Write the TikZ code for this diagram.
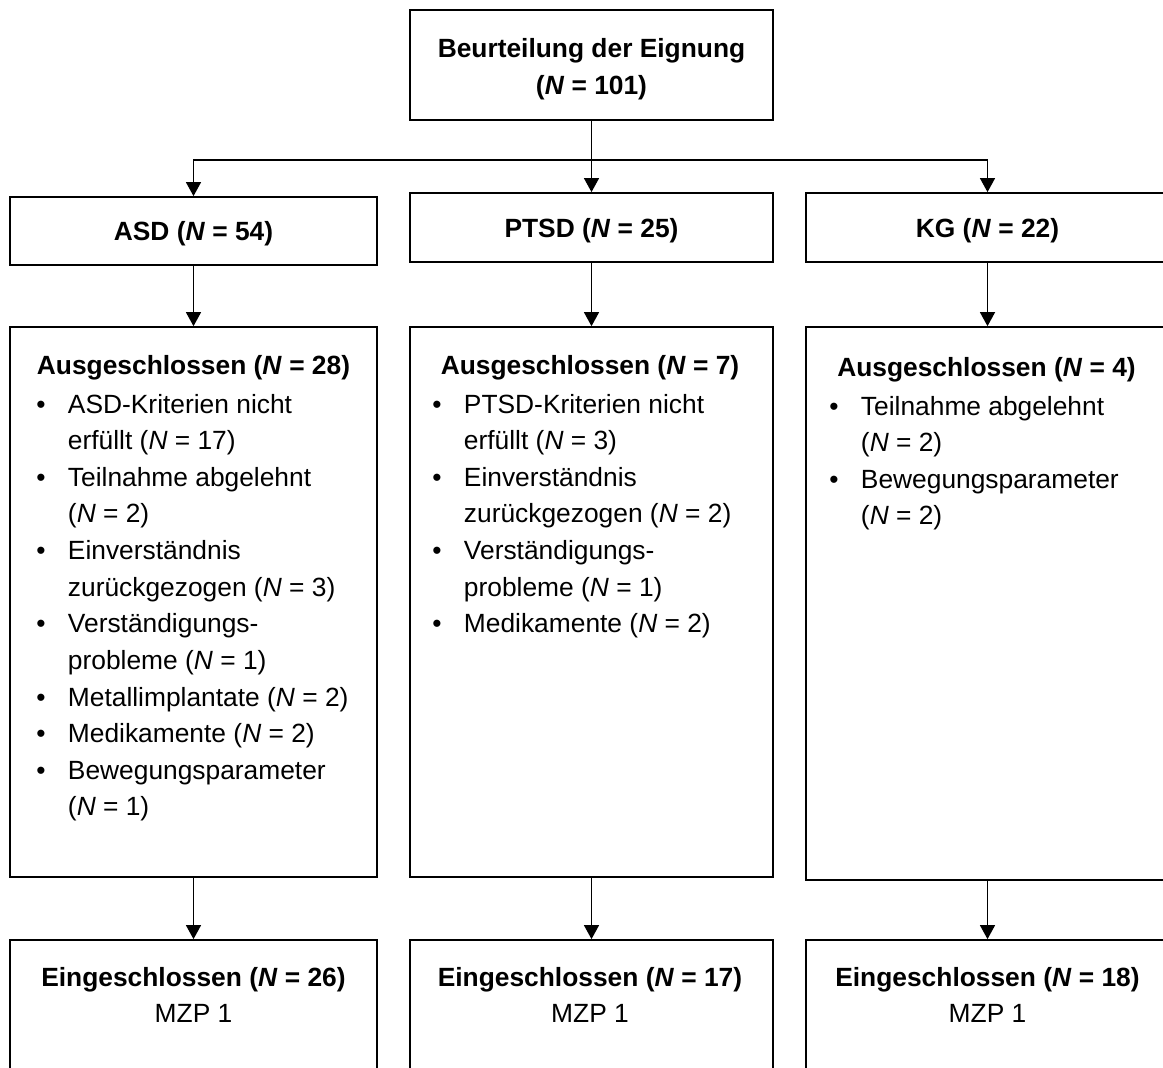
\documentclass[tikz,border=0pt]{standalone}
\usepackage{fontspec}
\setmainfont{Liberation Sans}
\usetikzlibrary{arrows.meta}
\newcommand{\bl}{\makebox[18pt][l]{\textbullet}}
\newcommand{\bpad}{\hspace*{18pt}}

\begin{document}
\begin{tikzpicture}[x=0.02cm,y=-0.02cm,
    box/.style={draw,line width=1pt,inner sep=0pt,minimum width=7.26cm,font=\fontsize{15}{20.85}\selectfont,text depth=0pt},
    txt/.style={inner sep=0pt,font=\fontsize{15}{20.85}\selectfont},
    arr/.style={-{Triangle[length=8pt,width=8.5pt]},line width=1pt}]
    \useasboundingbox (0,0) rectangle (1163,1068);
    \clip (0,0) rectangle (1163,1068);

    % boxes
    \node[box,minimum height=2.2cm] (eig) at (591.5,65) {};
    \node[box,minimum width=7.34cm,minimum height=1.36cm] (asd) at (193.5,231) {\textbf{ASD (\textit{N} = 54)}};
    \node[box,minimum height=1.38cm] (ptsd) at (591.5,227.5) {\textbf{PTSD (\textit{N} = 25)}};
    \node[box,minimum height=1.38cm] (kg) at (987.5,227.5) {\textbf{KG (\textit{N} = 22)}};

    \node[box,minimum width=7.34cm,minimum height=11cm] (exasd) at (193.5,602) {};
    \node[box,minimum height=11cm] (exptsd) at (591.5,602) {};
    \node[box,minimum height=11.06cm] (exkg) at (987.5,603.5) {};

    \node[box,minimum width=7.34cm,minimum height=3.2cm] (inasd) at (193.5,1020) {};
    \node[box,minimum height=3.2cm] (inptsd) at (591.5,1020) {};
    \node[box,minimum height=3.2cm] (inkg) at (987.5,1020) {};

    \node[txt,anchor=base] (teig) at (591.5,58) {\begin{tabular}[t]{@{}c@{}}\textbf{Beurteilung der Eignung}\\ \textbf{(\textit{N} = 101)}\end{tabular}};

    % excluded
    \node[txt,anchor=base] (tasd) at (193.5,374) {\textbf{Ausgeschlossen (\textit{N} = 28)}};
    \node[txt,anchor=base west] (lasd) at (36,413) {\begin{tabular}[t]{@{}l@{}}
        \bl ASD-Kriterien nicht\\
        \bpad erfüllt (\textit{N} = 17)\\
        \bl Teilnahme abgelehnt\\
        \bpad (\textit{N} = 2)\\
        \bl Einverständnis\\
        \bpad zurückgezogen (\textit{N} = 3)\\
        \bl Verständigungs-\\
        \bpad probleme (\textit{N} = 1)\\
        \bl Metallimplantate (\textit{N} = 2)\\
        \bl Medikamente (\textit{N} = 2)\\
        \bl Bewegungsparameter\\
        \bpad (\textit{N} = 1)
    \end{tabular}};

    \node[txt,anchor=base] (tptsd) at (590,374) {\textbf{Ausgeschlossen (\textit{N} = 7)}};
    \node[txt,anchor=base west] (lptsd) at (432,413) {\begin{tabular}[t]{@{}l@{}}
        \bl PTSD-Kriterien nicht\\
        \bpad erfüllt (\textit{N} = 3)\\
        \bl Einverständnis\\
        \bpad zurückgezogen (\textit{N} = 2)\\
        \bl Verständigungs-\\
        \bpad probleme (\textit{N} = 1)\\
        \bl Medikamente (\textit{N} = 2)
    \end{tabular}};

    \node[txt,anchor=base] (tkg) at (986.5,376) {\textbf{Ausgeschlossen (\textit{N} = 4)}};
    \node[txt,anchor=base west] (lkg) at (829,415) {\begin{tabular}[t]{@{}l@{}}
        \bl Teilnahme abgelehnt\\
        \bpad (\textit{N} = 2)\\
        \bl Bewegungsparameter\\
        \bpad (\textit{N} = 2)
    \end{tabular}};

    % included
    \node[txt,anchor=base] (tinasd) at (193.5,986) {\begin{tabular}[t]{@{}c@{}}\textbf{Eingeschlossen (\textit{N} = 26)}\\ MZP 1\end{tabular}};
    \node[txt,anchor=base] (tinptsd) at (590,986) {\begin{tabular}[t]{@{}c@{}}\textbf{Eingeschlossen (\textit{N} = 17)}\\ MZP 1\end{tabular}};
    \node[txt,anchor=base] (tinkg) at (987.5,986) {\begin{tabular}[t]{@{}c@{}}\textbf{Eingeschlossen (\textit{N} = 18)}\\ MZP 1\end{tabular}};

    % arrows
    \coordinate (split) at (591.5,160);
    \draw[arr] (eig) -- (ptsd);
    \draw[arr] (split) -| (asd);
    \draw[arr] (split) -| (kg);
    \draw[arr] (asd) -- (exasd);
    \draw[arr] (ptsd) -- (exptsd);
    \draw[arr] (kg) -- (exkg);
    \draw[arr] (exasd) -- (inasd);
    \draw[arr] (exptsd) -- (inptsd);
    \draw[arr] (exkg) -- (inkg);
\end{tikzpicture}
\end{document}
